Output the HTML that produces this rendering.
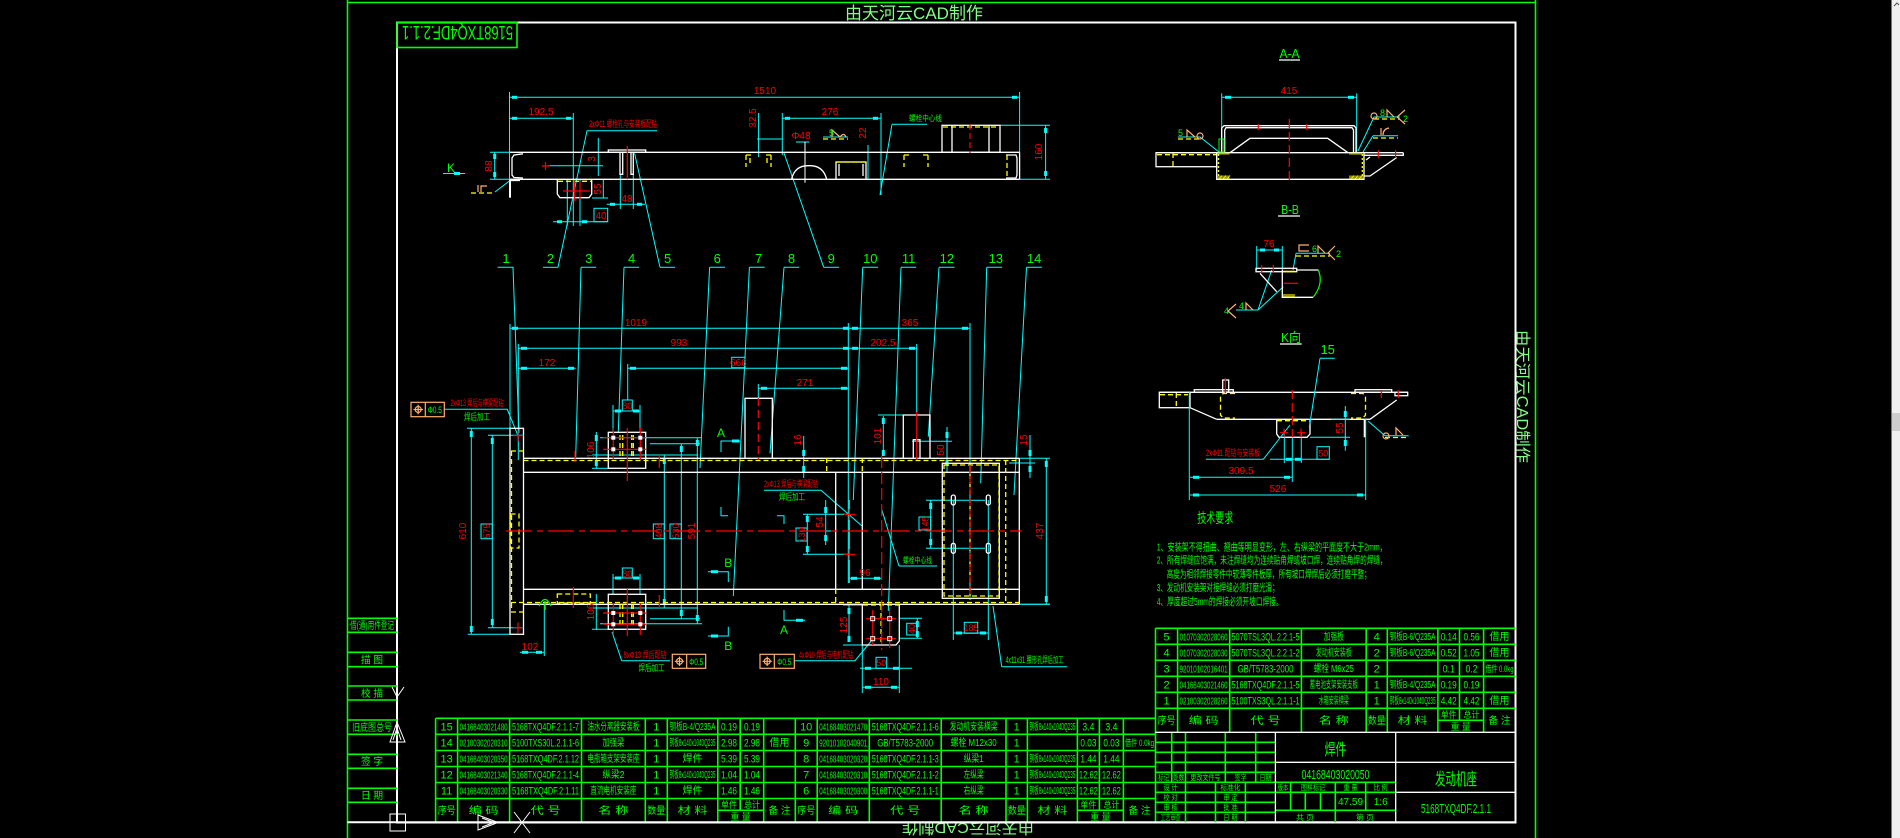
<!DOCTYPE html>
<html><head><meta charset="utf-8"><style>
html,body{margin:0;padding:0;background:#000;width:1900px;height:838px;overflow:hidden}
svg{display:block}
text{font-family:"Liberation Sans","Noto Sans CJK SC",sans-serif}
.c{stroke:#00ffff;stroke-width:1;fill:none}
.w{stroke:#fff;stroke-width:1.3;fill:none}
.wt{stroke:#fff;stroke-width:2;fill:none}
.y{stroke:#ffff00;stroke-width:1.3;fill:none;stroke-dasharray:5 3}
.r{stroke:#ff0000;stroke-width:1.2;fill:none}
.g{stroke:#00ff00;stroke-width:1.6;fill:none}
.o{stroke:#ffb070;stroke-width:1.2;fill:none}
.tg{fill:#00ff00}
.tr{fill:#ff0000}
.cf{fill:#00ffff}
.yf{fill:#ffff00}
</style></head><body>
<svg width="1900" height="838" viewBox="0 0 1900 838" xmlns="http://www.w3.org/2000/svg">
<rect width="1900" height="838" fill="#000"/>
<!-- scrollbar -->
<rect x="1891.5" y="0" width="8.5" height="838" fill="#f0f0f0"/>
<rect x="1892" y="413" width="8" height="18" fill="#cdcdcd"/>
<path d="M1894 6 L1897 3 L1899 5" stroke="#555" stroke-width="1" fill="none"/>

<!-- outer green frame -->
<g class="g">
<line x1="347.5" y1="0" x2="347.5" y2="838"/>
<line x1="1535.5" y1="0" x2="1535.5" y2="838"/>
<line x1="347.5" y1="2.5" x2="1535.5" y2="2.5"/>
</g>
<text x="914" y="19" font-size="17" fill="#80ff80" text-anchor="middle" textLength="138" lengthAdjust="spacingAndGlyphs">由天河云CAD制作</text>
<text transform="translate(1517,330) rotate(90)" font-size="16" fill="#80ff80" textLength="133" lengthAdjust="spacingAndGlyphs">由天河云CAD制作</text>
<text transform="translate(1034,823) rotate(180)" font-size="15" fill="#80ff80" textLength="132" lengthAdjust="spacingAndGlyphs">由天河云CAD制作</text>

<!-- inner white frame -->
<rect x="397" y="22.5" width="1118.5" height="800" class="wt"/>
<line x1="347.5" y1="822.3" x2="397" y2="822.3" class="wt"/>
<!-- top-left box -->
<rect x="397" y="22.5" width="120" height="25" class="g"/>
<text transform="translate(513,26) rotate(180)" font-size="19" class="tg" textLength="111" lengthAdjust="spacingAndGlyphs">5168TXQ4DF.2.1.1</text>

<!-- left sidebar -->
<g class="g">
<line x1="347.5" y1="618.3" x2="397" y2="618.3"/><line x1="347.5" y1="632.3" x2="397" y2="632.3"/>
<line x1="347.5" y1="652.3" x2="397" y2="652.3"/><line x1="347.5" y1="666.7" x2="397" y2="666.7"/>
<line x1="347.5" y1="686" x2="397" y2="686"/><line x1="347.5" y1="700" x2="397" y2="700"/>
<line x1="347.5" y1="720" x2="397" y2="720"/><line x1="347.5" y1="734.3" x2="397" y2="734.3"/>
<line x1="347.5" y1="754.3" x2="397" y2="754.3"/><line x1="347.5" y1="768.3" x2="397" y2="768.3"/>
<line x1="347.5" y1="788.3" x2="397" y2="788.3"/><line x1="347.5" y1="802.3" x2="397" y2="802.3"/>
</g>
<g class="tg" font-size="10" text-anchor="middle">
<text x="372" y="629" textLength="44" lengthAdjust="spacingAndGlyphs">借(通)用件登记</text>
<text x="372" y="663.5" textLength="22" lengthAdjust="spacingAndGlyphs">描 图</text>
<text x="372" y="697" textLength="22" lengthAdjust="spacingAndGlyphs">校 描</text>
<text x="372" y="731" textLength="40" lengthAdjust="spacingAndGlyphs">旧底图总号</text>
<text x="372" y="765" textLength="22" lengthAdjust="spacingAndGlyphs">签 字</text>
<text x="372" y="799" textLength="22" lengthAdjust="spacingAndGlyphs">日 期</text>
</g>
<!-- UCS icon -->
<g stroke="#fff" stroke-width="1" fill="none">
<path d="M392 687 L397 697 L404 687 M397 697 L397 707"/>
<path d="M397 722 L390 742 L405 742 Z M397 728 L393 740 M397 728 L401 740"/>
<rect x="390" y="814" width="15.5" height="17"/><line x1="390" y1="822.5" x2="405.5" y2="822.5"/>
<path d="M478 815 L498 822.5 L478 830 Z M482 818 L494 822.5 L482 827"/>
<path d="M514 812 L530 833 M530 812 L514 833"/>
</g>

<!-- ============ BOTTOM-LEFT PARTS TABLE ============ -->
<g class="g">
<line x1="435.6" y1="718.3" x2="1155.5" y2="718.3"/>
<line x1="435.6" y1="734.3" x2="1155.5" y2="734.3"/>
<line x1="435.6" y1="750.5" x2="1155.5" y2="750.5"/>
<line x1="435.6" y1="766.5" x2="1155.5" y2="766.5"/>
<line x1="435.6" y1="782.5" x2="1155.5" y2="782.5"/>
<line x1="435.6" y1="798.5" x2="1155.5" y2="798.5"/>
<line x1="717.8" y1="810.3" x2="763.7" y2="810.3"/>
<line x1="1077.4" y1="810.3" x2="1123.4" y2="810.3"/>
<line x1="435.6" y1="718.3" x2="435.6" y2="822.3"/>
<line x1="457.6" y1="718.3" x2="457.6" y2="822.3"/>
<line x1="509.6" y1="718.3" x2="509.6" y2="822.3"/>
<line x1="581.5" y1="718.3" x2="581.5" y2="822.3"/>
<line x1="645.3" y1="718.3" x2="645.3" y2="822.3"/>
<line x1="667.3" y1="718.3" x2="667.3" y2="822.3"/>
<line x1="717.8" y1="718.3" x2="717.8" y2="822.3"/>
<line x1="740.2" y1="718.3" x2="740.2" y2="810.3"/>
<line x1="763.7" y1="718.3" x2="763.7" y2="822.3"/>
<line x1="795.3" y1="718.3" x2="795.3" y2="822.3"/>
<line x1="817.2" y1="718.3" x2="817.2" y2="822.3"/>
<line x1="869.3" y1="718.3" x2="869.3" y2="822.3"/>
<line x1="941.2" y1="718.3" x2="941.2" y2="822.3"/>
<line x1="1006" y1="718.3" x2="1006" y2="822.3"/>
<line x1="1027.4" y1="718.3" x2="1027.4" y2="822.3"/>
<line x1="1077.4" y1="718.3" x2="1077.4" y2="822.3"/>
<line x1="1099.4" y1="718.3" x2="1099.4" y2="810.3"/>
<line x1="1123.4" y1="718.3" x2="1123.4" y2="822.3"/>
<line x1="1155.5" y1="628.3" x2="1155.5" y2="822.3"/>
</g>
<line x1="397" y1="822.3" x2="1515.5" y2="822.3" class="wt"/>
<g class="tg" font-size="11" text-anchor="middle">
<!-- left half -->
<text x="446.6" y="730.5">15</text><text x="446.6" y="746.5">14</text><text x="446.6" y="762.5">13</text><text x="446.6" y="778.5">12</text><text x="446.6" y="794.5">11</text>
<g font-size="10">
<text x="483.6" y="730.5" textLength="48" lengthAdjust="spacingAndGlyphs">04168403021480</text>
<text x="483.6" y="746.5" textLength="48" lengthAdjust="spacingAndGlyphs">02100302020310</text>
<text x="483.6" y="762.5" textLength="48" lengthAdjust="spacingAndGlyphs">04168403020350</text>
<text x="483.6" y="778.5" textLength="48" lengthAdjust="spacingAndGlyphs">04168403021340</text>
<text x="483.6" y="794.5" textLength="48" lengthAdjust="spacingAndGlyphs">04168403020330</text>
</g>
<text x="545.5" y="730.5" textLength="67" lengthAdjust="spacingAndGlyphs">5168TXQ4DF.2.1.1-7</text>
<text x="545.5" y="746.5" textLength="67" lengthAdjust="spacingAndGlyphs">5100TXS30L.2.1.1-6</text>
<text x="545.5" y="762.5" textLength="67" lengthAdjust="spacingAndGlyphs">5168TXQ4DF.2.1.12</text>
<text x="545.5" y="778.5" textLength="67" lengthAdjust="spacingAndGlyphs">5168TXQ4DF.2.1.1-4</text>
<text x="545.5" y="794.5" textLength="67" lengthAdjust="spacingAndGlyphs">5168TXQ4DF.2.1.11</text>
<g font-size="10">
<text x="613.4" y="730" textLength="52" lengthAdjust="spacingAndGlyphs">油水分离器安装板</text>
<text x="613.4" y="746" textLength="22" lengthAdjust="spacingAndGlyphs">加强梁</text>
<text x="613.4" y="762" textLength="52" lengthAdjust="spacingAndGlyphs">电瓶箱支架安装座</text>
<text x="613.4" y="778" textLength="22" lengthAdjust="spacingAndGlyphs">纵梁2</text>
<text x="613.4" y="794" textLength="46" lengthAdjust="spacingAndGlyphs">直流电机安装座</text>
</g>
<text x="656.3" y="730.5">1</text><text x="656.3" y="746.5">1</text><text x="656.3" y="762.5">1</text><text x="656.3" y="778.5">1</text><text x="656.3" y="794.5">1</text>
<g font-size="10">
<text x="692.5" y="730" textLength="46" lengthAdjust="spacingAndGlyphs">钢板B-4/Q235A</text>
<text x="692.5" y="746" textLength="46" lengthAdjust="spacingAndGlyphs">钢板8x140x1040Q235</text>
<text x="692.5" y="762">焊件</text>
<text x="692.5" y="778" textLength="46" lengthAdjust="spacingAndGlyphs">钢板8x140x1040Q235</text>
<text x="692.5" y="794">焊件</text>
</g>
<g font-size="11">
<text x="729" y="730.5" textLength="16" lengthAdjust="spacingAndGlyphs">0.19</text><text x="752" y="730.5" textLength="16" lengthAdjust="spacingAndGlyphs">0.19</text>
<text x="729" y="746.5" textLength="16" lengthAdjust="spacingAndGlyphs">2.98</text><text x="752" y="746.5" textLength="16" lengthAdjust="spacingAndGlyphs">2.98</text>
<text x="729" y="762.5" textLength="16" lengthAdjust="spacingAndGlyphs">5.39</text><text x="752" y="762.5" textLength="16" lengthAdjust="spacingAndGlyphs">5.39</text>
<text x="729" y="778.5" textLength="16" lengthAdjust="spacingAndGlyphs">1.04</text><text x="752" y="778.5" textLength="16" lengthAdjust="spacingAndGlyphs">1.04</text>
<text x="729" y="794.5" textLength="16" lengthAdjust="spacingAndGlyphs">1.46</text><text x="752" y="794.5" textLength="16" lengthAdjust="spacingAndGlyphs">1.46</text>
</g>
<text x="779.5" y="746" font-size="10">借用</text>
<!-- right half -->
<text x="806.2" y="730.5">10</text><text x="806.2" y="746.5">9</text><text x="806.2" y="762.5">8</text><text x="806.2" y="778.5">7</text><text x="806.2" y="794.5">6</text>
<g font-size="10">
<text x="843.2" y="730.5" textLength="48" lengthAdjust="spacingAndGlyphs">04168403021470</text>
<text x="843.2" y="746.5" textLength="48" lengthAdjust="spacingAndGlyphs">92010102040901</text>
<text x="843.2" y="762.5" textLength="48" lengthAdjust="spacingAndGlyphs">04168403020320</text>
<text x="843.2" y="778.5" textLength="48" lengthAdjust="spacingAndGlyphs">04168403020310</text>
<text x="843.2" y="794.5" textLength="48" lengthAdjust="spacingAndGlyphs">04168403020300</text>
</g>
<text x="905.2" y="730.5" textLength="67" lengthAdjust="spacingAndGlyphs">5168TXQ4DF.2.1.1-6</text>
<text x="905.2" y="746.5" textLength="56" lengthAdjust="spacingAndGlyphs">GB/T5783-2000</text>
<text x="905.2" y="762.5" textLength="67" lengthAdjust="spacingAndGlyphs">5168TXQ4DF.2.1.1-3</text>
<text x="905.2" y="778.5" textLength="67" lengthAdjust="spacingAndGlyphs">5168TXQ4DF.2.1.1-2</text>
<text x="905.2" y="794.5" textLength="67" lengthAdjust="spacingAndGlyphs">5168TXQ4DF.2.1.1-1</text>
<g font-size="10">
<text x="973.6" y="730" textLength="48" lengthAdjust="spacingAndGlyphs">发动机安装横梁</text>
<text x="973.6" y="746" textLength="46" lengthAdjust="spacingAndGlyphs">螺栓 M12x30</text>
<text x="973.6" y="762" textLength="20" lengthAdjust="spacingAndGlyphs">纵梁1</text>
<text x="973.6" y="778" textLength="20" lengthAdjust="spacingAndGlyphs">左纵梁</text>
<text x="973.6" y="794" textLength="20" lengthAdjust="spacingAndGlyphs">右纵梁</text>
</g>
<text x="1016.7" y="730.5">1</text><text x="1016.7" y="746.5">1</text><text x="1016.7" y="762.5">1</text><text x="1016.7" y="778.5">1</text><text x="1016.7" y="794.5">1</text>
<g font-size="10">
<text x="1052.4" y="730" textLength="46" lengthAdjust="spacingAndGlyphs">钢板8x140x1040Q235</text>
<text x="1052.4" y="762" textLength="46" lengthAdjust="spacingAndGlyphs">钢板8x140x1040Q235</text>
<text x="1052.4" y="778" textLength="46" lengthAdjust="spacingAndGlyphs">钢板8x140x1040Q235</text>
<text x="1052.4" y="794" textLength="46" lengthAdjust="spacingAndGlyphs">钢板8x140x1040Q235</text>
</g>
<g font-size="11">
<text x="1088.4" y="730.5" textLength="12" lengthAdjust="spacingAndGlyphs">3.4</text><text x="1111.4" y="730.5" textLength="12" lengthAdjust="spacingAndGlyphs">3.4</text>
<text x="1088.4" y="746.5" textLength="16" lengthAdjust="spacingAndGlyphs">0.03</text><text x="1111.4" y="746.5" textLength="16" lengthAdjust="spacingAndGlyphs">0.03</text>
<text x="1088.4" y="762.5" textLength="16" lengthAdjust="spacingAndGlyphs">1.44</text><text x="1111.4" y="762.5" textLength="16" lengthAdjust="spacingAndGlyphs">1.44</text>
<text x="1088.4" y="778.5" textLength="19" lengthAdjust="spacingAndGlyphs">12.62</text><text x="1111.4" y="778.5" textLength="19" lengthAdjust="spacingAndGlyphs">12.62</text>
<text x="1088.4" y="794.5" textLength="19" lengthAdjust="spacingAndGlyphs">12.62</text><text x="1111.4" y="794.5" textLength="19" lengthAdjust="spacingAndGlyphs">12.62</text>
</g>
<text x="1139.5" y="746" font-size="9" textLength="29" lengthAdjust="spacingAndGlyphs">借件 0.0kg</text>
<!-- headers -->
<g font-size="10">
<text x="446.6" y="814" textLength="18" lengthAdjust="spacingAndGlyphs">序号</text>
<text x="483.6" y="814" textLength="30" lengthAdjust="spacingAndGlyphs">编  码</text>
<text x="545.5" y="814" textLength="30" lengthAdjust="spacingAndGlyphs">代  号</text>
<text x="613.4" y="814" textLength="30" lengthAdjust="spacingAndGlyphs">名  称</text>
<text x="656.3" y="814" textLength="18" lengthAdjust="spacingAndGlyphs">数量</text>
<text x="692.5" y="814" textLength="30" lengthAdjust="spacingAndGlyphs">材  料</text>
<text x="729" y="808" font-size="9" textLength="16" lengthAdjust="spacingAndGlyphs">单件</text><text x="752" y="808" font-size="9" textLength="16" lengthAdjust="spacingAndGlyphs">总计</text>
<text x="740.5" y="820" font-size="9" textLength="20" lengthAdjust="spacingAndGlyphs">重 量</text>
<text x="779.5" y="814" textLength="22" lengthAdjust="spacingAndGlyphs">备 注</text>
<text x="806.2" y="814" textLength="18" lengthAdjust="spacingAndGlyphs">序号</text>
<text x="843.2" y="814" textLength="30" lengthAdjust="spacingAndGlyphs">编  码</text>
<text x="905.2" y="814" textLength="30" lengthAdjust="spacingAndGlyphs">代  号</text>
<text x="973.6" y="814" textLength="30" lengthAdjust="spacingAndGlyphs">名  称</text>
<text x="1016.7" y="814" textLength="18" lengthAdjust="spacingAndGlyphs">数量</text>
<text x="1052.4" y="814" textLength="30" lengthAdjust="spacingAndGlyphs">材  料</text>
<text x="1088.4" y="808" font-size="9" textLength="16" lengthAdjust="spacingAndGlyphs">单件</text><text x="1111.4" y="808" font-size="9" textLength="16" lengthAdjust="spacingAndGlyphs">总计</text>
<text x="1100.4" y="820" font-size="9" textLength="20" lengthAdjust="spacingAndGlyphs">重 量</text>
<text x="1139.5" y="814" textLength="22" lengthAdjust="spacingAndGlyphs">备 注</text>
</g>
</g>

<!-- ============ RIGHT PARTS TABLE ============ -->
<g class="g">
<line x1="1155.5" y1="628.3" x2="1515.5" y2="628.3"/>
<line x1="1155.5" y1="644.3" x2="1515.5" y2="644.3"/>
<line x1="1155.5" y1="660.3" x2="1515.5" y2="660.3"/>
<line x1="1155.5" y1="676.3" x2="1515.5" y2="676.3"/>
<line x1="1155.5" y1="692.3" x2="1515.5" y2="692.3"/>
<line x1="1155.5" y1="708.3" x2="1515.5" y2="708.3"/>
<line x1="1437.9" y1="720.3" x2="1483.6" y2="720.3"/>
<line x1="1177.6" y1="628.3" x2="1177.6" y2="732.3"/>
<line x1="1229.7" y1="628.3" x2="1229.7" y2="732.3"/>
<line x1="1301.4" y1="628.3" x2="1301.4" y2="732.3"/>
<line x1="1366.2" y1="628.3" x2="1366.2" y2="732.3"/>
<line x1="1387.3" y1="628.3" x2="1387.3" y2="732.3"/>
<line x1="1437.9" y1="628.3" x2="1437.9" y2="732.3"/>
<line x1="1459.5" y1="628.3" x2="1459.5" y2="720.3"/>
<line x1="1483.6" y1="628.3" x2="1483.6" y2="732.3"/>
</g>
<g class="tg" font-size="11" text-anchor="middle">
<text x="1166.5" y="640.5">5</text><text x="1166.5" y="656.5">4</text><text x="1166.5" y="672.5">3</text><text x="1166.5" y="688.5">2</text><text x="1166.5" y="704.5">1</text>
<g font-size="10">
<text x="1203.6" y="640.5" textLength="48" lengthAdjust="spacingAndGlyphs">01070302028060</text>
<text x="1203.6" y="656.5" textLength="48" lengthAdjust="spacingAndGlyphs">01070302028030</text>
<text x="1203.6" y="672.5" textLength="48" lengthAdjust="spacingAndGlyphs">92010102016401</text>
<text x="1203.6" y="688.5" textLength="48" lengthAdjust="spacingAndGlyphs">04168403021460</text>
<text x="1203.6" y="704.5" textLength="48" lengthAdjust="spacingAndGlyphs">02100302028260</text>
</g>
<text x="1265.5" y="640.5" textLength="68" lengthAdjust="spacingAndGlyphs">5070TSL3QL.2.2.1-5</text>
<text x="1265.5" y="656.5" textLength="68" lengthAdjust="spacingAndGlyphs">5070TSL3QL.2.2.1-2</text>
<text x="1265.5" y="672.5" textLength="56" lengthAdjust="spacingAndGlyphs">GB/T5783-2000</text>
<text x="1265.5" y="688.5" textLength="68" lengthAdjust="spacingAndGlyphs">5168TXQ4DF.2.1.1-5</text>
<text x="1265.5" y="704.5" textLength="68" lengthAdjust="spacingAndGlyphs">5100TXS3QL.2.1.1-1</text>
<g font-size="10">
<text x="1333.8" y="640" textLength="20" lengthAdjust="spacingAndGlyphs">加强板</text>
<text x="1333.8" y="656" textLength="36" lengthAdjust="spacingAndGlyphs">发动机安装板</text>
<text x="1333.8" y="672" textLength="40" lengthAdjust="spacingAndGlyphs">螺栓 M6x25</text>
<text x="1333.8" y="688" textLength="48" lengthAdjust="spacingAndGlyphs">蓄电池支架安装支板</text>
<text x="1333.8" y="704" textLength="30" lengthAdjust="spacingAndGlyphs">水箱安装横梁</text>
</g>
<text x="1376.7" y="640.5">4</text><text x="1376.7" y="656.5">2</text><text x="1376.7" y="672.5">2</text><text x="1376.7" y="688.5">1</text><text x="1376.7" y="704.5">1</text>
<g font-size="10">
<text x="1412.6" y="640" textLength="46" lengthAdjust="spacingAndGlyphs">钢板B-6/Q235A</text>
<text x="1412.6" y="656" textLength="46" lengthAdjust="spacingAndGlyphs">钢板B-6/Q235A</text>
<text x="1412.6" y="688" textLength="46" lengthAdjust="spacingAndGlyphs">钢板B-4/Q235A</text>
<text x="1412.6" y="704" textLength="46" lengthAdjust="spacingAndGlyphs">钢板8x140x1040Q235</text>
</g>
<text x="1448.7" y="640.5" textLength="16" lengthAdjust="spacingAndGlyphs">0.14</text><text x="1471.5" y="640.5" textLength="16" lengthAdjust="spacingAndGlyphs">0.56</text>
<text x="1448.7" y="656.5" textLength="16" lengthAdjust="spacingAndGlyphs">0.52</text><text x="1471.5" y="656.5" textLength="16" lengthAdjust="spacingAndGlyphs">1.05</text>
<text x="1448.7" y="672.5" textLength="12" lengthAdjust="spacingAndGlyphs">0.1</text><text x="1471.5" y="672.5" textLength="12" lengthAdjust="spacingAndGlyphs">0.2</text>
<text x="1448.7" y="688.5" textLength="16" lengthAdjust="spacingAndGlyphs">0.19</text><text x="1471.5" y="688.5" textLength="16" lengthAdjust="spacingAndGlyphs">0.19</text>
<text x="1448.7" y="704.5" textLength="16" lengthAdjust="spacingAndGlyphs">4.42</text><text x="1471.5" y="704.5" textLength="16" lengthAdjust="spacingAndGlyphs">4.42</text>
<g font-size="10">
<text x="1499.5" y="640">借用</text>
<text x="1499.5" y="656">借用</text>
<text x="1499.5" y="672" font-size="9" textLength="28" lengthAdjust="spacingAndGlyphs">借件 0.0kg</text>
<text x="1499.5" y="704">借用</text>
<text x="1166.5" y="724" textLength="18" lengthAdjust="spacingAndGlyphs">序号</text>
<text x="1203.6" y="724" textLength="30" lengthAdjust="spacingAndGlyphs">编  码</text>
<text x="1265.5" y="724" textLength="30" lengthAdjust="spacingAndGlyphs">代  号</text>
<text x="1333.8" y="724" textLength="30" lengthAdjust="spacingAndGlyphs">名  称</text>
<text x="1376.7" y="724" textLength="18" lengthAdjust="spacingAndGlyphs">数量</text>
<text x="1412.6" y="724" textLength="30" lengthAdjust="spacingAndGlyphs">材  料</text>
<text x="1448.7" y="718" font-size="9" textLength="16" lengthAdjust="spacingAndGlyphs">单件</text><text x="1471.5" y="718" font-size="9" textLength="16" lengthAdjust="spacingAndGlyphs">总计</text>
<text x="1460.7" y="730" font-size="9" textLength="20" lengthAdjust="spacingAndGlyphs">重 量</text>
<text x="1499.5" y="724" textLength="22" lengthAdjust="spacingAndGlyphs">备 注</text>
</g>
</g>

<!-- ============ TITLE BLOCK ============ -->
<g class="g" stroke-width="1.3">
<line x1="1155.5" y1="742.3" x2="1275.4" y2="742.3"/>
<line x1="1155.5" y1="752.3" x2="1275.4" y2="752.3"/>
<line x1="1155.5" y1="762.3" x2="1275.4" y2="762.3"/>
<line x1="1155.5" y1="772.3" x2="1275.4" y2="772.3"/>
<line x1="1155.5" y1="782.3" x2="1275.4" y2="782.3"/>
<line x1="1155.5" y1="792.3" x2="1275.4" y2="792.3"/>
<line x1="1155.5" y1="802.3" x2="1275.4" y2="802.3"/>
<line x1="1155.5" y1="812.3" x2="1275.4" y2="812.3"/>
<line x1="1171.7" y1="732.3" x2="1171.7" y2="782.3"/>
<line x1="1185.5" y1="732.3" x2="1185.5" y2="822.3"/>
<line x1="1225.3" y1="732.3" x2="1225.3" y2="782.3"/>
<line x1="1255.7" y1="732.3" x2="1255.7" y2="782.3"/>
<line x1="1215.5" y1="782.3" x2="1215.5" y2="822.3"/>
<line x1="1245.4" y1="782.3" x2="1245.4" y2="822.3"/>
<line x1="1275.4" y1="782.3" x2="1395.7" y2="782.3"/>
<line x1="1275.4" y1="792.3" x2="1395.7" y2="792.3"/>
<line x1="1275.4" y1="810.3" x2="1395.7" y2="810.3"/>
<line x1="1290.6" y1="782.3" x2="1290.6" y2="810.3"/>
<line x1="1305.3" y1="792.3" x2="1305.3" y2="810.3"/>
<line x1="1320.5" y1="792.3" x2="1320.5" y2="810.3"/>
<line x1="1335.3" y1="782.3" x2="1335.3" y2="822.3"/>
<line x1="1365.7" y1="782.3" x2="1365.7" y2="810.3"/>
</g>
<g class="w" stroke-width="1.6">
<line x1="1155.5" y1="732.3" x2="1515.5" y2="732.3"/>
<line x1="1275.4" y1="732.3" x2="1275.4" y2="822.3"/>
<line x1="1395.7" y1="732.3" x2="1395.7" y2="822.3"/>
<line x1="1275.4" y1="762.3" x2="1515.5" y2="762.3"/>
<line x1="1395.7" y1="792.3" x2="1515.5" y2="792.3"/>
</g>
<g class="tg" text-anchor="middle" font-size="7.5">
<text x="1163.6" y="780" textLength="11" lengthAdjust="spacingAndGlyphs">标记</text>
<text x="1178.6" y="780" textLength="11" lengthAdjust="spacingAndGlyphs">处数</text>
<text x="1205.4" y="780" textLength="30" lengthAdjust="spacingAndGlyphs">更改文件号</text>
<text x="1240.5" y="780" textLength="12" lengthAdjust="spacingAndGlyphs">签字</text>
<text x="1265.5" y="780" textLength="12" lengthAdjust="spacingAndGlyphs">日期</text>
<text x="1170.5" y="790" textLength="14" lengthAdjust="spacingAndGlyphs">设 计</text>
<text x="1170.5" y="800" textLength="14" lengthAdjust="spacingAndGlyphs">校 对</text>
<text x="1170.5" y="810" textLength="14" lengthAdjust="spacingAndGlyphs">审 核</text>
<text x="1170.5" y="820" textLength="20" lengthAdjust="spacingAndGlyphs">工艺审查</text>
<text x="1230.4" y="790" textLength="20" lengthAdjust="spacingAndGlyphs">标准化</text>
<text x="1230.4" y="800" textLength="14" lengthAdjust="spacingAndGlyphs">审 定</text>
<text x="1230.4" y="810" textLength="14" lengthAdjust="spacingAndGlyphs">批 准</text>
<text x="1230.4" y="820" textLength="14" lengthAdjust="spacingAndGlyphs">日 期</text>
<text x="1283" y="790" textLength="11" lengthAdjust="spacingAndGlyphs">版本</text>
<text x="1313" y="790" textLength="24" lengthAdjust="spacingAndGlyphs">图样标记</text>
<text x="1350.5" y="790" textLength="14" lengthAdjust="spacingAndGlyphs">重 量</text>
<text x="1380.7" y="790" textLength="14" lengthAdjust="spacingAndGlyphs">比 例</text>
<text x="1305" y="820" textLength="18" lengthAdjust="spacingAndGlyphs">共   页</text>
<text x="1365" y="820" textLength="18" lengthAdjust="spacingAndGlyphs">第   页</text>
<text x="1350.5" y="805" font-size="10">47.59</text>
<text x="1380.7" y="805" font-size="10">1:6</text>
<text x="1335.5" y="755" font-size="16" textLength="22" lengthAdjust="spacingAndGlyphs">焊件</text>
<text x="1335.5" y="779" font-size="13" textLength="68" lengthAdjust="spacingAndGlyphs">04168403020050</text>
<text x="1456" y="785" font-size="17" textLength="42" lengthAdjust="spacingAndGlyphs">发动机座</text>
<text x="1456" y="813" font-size="13" textLength="70" lengthAdjust="spacingAndGlyphs">5168TXQ4DF.2.1.1</text>
</g>

<!-- ============ TOP ELEVATION VIEW ============ -->
<g class="c">
<line x1="509.5" y1="92" x2="509.5" y2="180"/>
<line x1="1019.6" y1="92" x2="1019.6" y2="152"/>
<line x1="509.5" y1="97.3" x2="1019.6" y2="97.3"/>
<line x1="509.5" y1="118.3" x2="573.3" y2="118.3"/>
<line x1="573.3" y1="113" x2="573.3" y2="226"/>
<line x1="490" y1="152.3" x2="512" y2="152.3"/><line x1="490" y1="179.3" x2="512" y2="179.3"/>
<line x1="494.7" y1="152.3" x2="494.7" y2="179.3"/>
<line x1="443" y1="173.5" x2="465" y2="173.5"/>
<path d="M495 192 L510 180.5"/>
<path d="M548 165.7 L603 165.7"/>
<path d="M587 130.7 L657 130.7 M587 130.7 L558 267.3"/>
<line x1="598.3" y1="138" x2="598.3" y2="176"/>
<line x1="603.3" y1="180" x2="603.3" y2="198"/>
<line x1="592" y1="198" x2="608" y2="198"/>
<line x1="553" y1="221.7" x2="607.7" y2="221.7"/>
<line x1="567.3" y1="180" x2="567.3" y2="226"/><line x1="580" y1="180" x2="580" y2="226"/>
<rect x="594" y="208.3" width="13.7" height="13.4"/>
<line x1="606.7" y1="204.3" x2="645" y2="204.3"/>
<line x1="620.3" y1="175" x2="620.3" y2="209"/><line x1="633.3" y1="175" x2="633.3" y2="209"/>
<path d="M634.6 153.3 L660 267.3"/>
<line x1="758.6" y1="113" x2="758.6" y2="157"/>
<line x1="757" y1="139" x2="782.3" y2="139"/>
<line x1="782.3" y1="113" x2="782.3" y2="155"/>
<line x1="782.3" y1="118.3" x2="881" y2="118.3"/>
<line x1="881" y1="113" x2="881" y2="195"/>
<line x1="868" y1="145" x2="868" y2="180"/>
<line x1="796" y1="142" x2="809" y2="142"/>
<line x1="805" y1="141.7" x2="805" y2="182.7" stroke="#fff"/>
<path d="M784 153 L823.7 267.3"/>
<path d="M892 124.3 L927 124.3 M892 124.3 L880 195"/>
<line x1="823" y1="137" x2="848" y2="137"/>
<line x1="1000" y1="125.3" x2="1050" y2="125.3"/>
<line x1="1019.6" y1="179.3" x2="1050" y2="179.3"/>
<line x1="1045.6" y1="125.3" x2="1045.6" y2="179.3"/>
</g>
<g class="cf">
<rect x="512" y="95.8" width="5" height="3"/><rect x="1012" y="95.8" width="5" height="3"/>
<rect x="512" y="116.8" width="5" height="3"/><rect x="566" y="116.8" width="5" height="3"/>
<rect x="493.2" y="154" width="3" height="5"/><rect x="493.2" y="172" width="3" height="5"/>
<rect x="454" y="172" width="6" height="3"/>
<rect x="785" y="116.8" width="5" height="3"/><rect x="873" y="116.8" width="5" height="3"/>
<rect x="1044.1" y="128" width="3" height="5"/><rect x="1044.1" y="171" width="3" height="5"/>
<rect x="557" y="220.2" width="5" height="3"/><rect x="582" y="220.2" width="5" height="3"/>
<rect x="610" y="202.8" width="5" height="3"/><rect x="637" y="202.8" width="5" height="3"/>
</g>
<g class="w">
<line x1="510" y1="152.3" x2="1019.6" y2="152.3"/>
<line x1="510" y1="179.3" x2="1019.6" y2="179.3"/>
<line x1="1019.6" y1="152.3" x2="1019.6" y2="179.3"/>
<path d="M523 153.8 L514 155 L512 158 L512 175 L514 177.5 L523 178"/>
<line x1="510" y1="179.3" x2="510" y2="197.7" stroke-width="2"/>
<path d="M510 180.5 L520 180.5"/>
<path d="M557.3 180 L557.3 194 L560 197.7 L589 197.7 L591.7 194 L591.7 180"/>
<rect x="608.3" y="150" width="37.4" height="2.3"/>
<path d="M620 152.3 L620 174.3 L622.7 174.3 L622.7 152.3 M631 152.3 L631 174.3 L633.3 174.3 L633.3 152.3"/>
<path d="M791.5 179.3 Q795 165 809 165.7 Q823 165 826.7 179.3"/>
<rect x="942" y="125.3" width="58" height="27"/>
<line x1="952" y1="125.3" x2="952" y2="152.3"/><line x1="989" y1="125.3" x2="989" y2="152.3"/>
<path d="M836 179.3 L836 162 L866 162 L866 179.3 M839 164 L839 176 M863 164 L863 176"/>
<path d="M1006 155 L1016 155 L1017 158 L1017 175 L1016 178 L1006 178"/>
</g>
<g class="y">
<line x1="558" y1="181.3" x2="591" y2="181.3"/>
<line x1="943" y1="127" x2="999" y2="127"/>
<path d="M746 155 L754 155 M746 155 L746 167 M771 155 L763 155 M771 155 L771 167 M750 158 L750 166 M767 158 L767 166"/>
<path d="M836 162 L866 162"/>
<path d="M904 155 L912 155 M904 155 L904 167 M928 155 L920 155 M928 155 L928 167"/>
<line x1="471" y1="193" x2="495" y2="193"/>
<line x1="823" y1="139" x2="848" y2="139"/>
<path d="M1007 155 L1007 177"/>
</g>
<g class="r">
<line x1="627.3" y1="146" x2="627.3" y2="179.3"/>
<line x1="574.5" y1="181" x2="574.5" y2="201"/>
<line x1="563" y1="191" x2="590" y2="191"/>
<line x1="580" y1="181" x2="580" y2="199"/>
<path d="M542 166 L550 166 M545.5 162 L545.5 170"/>
<line x1="970" y1="124" x2="970" y2="153" stroke-dasharray="6 3"/>
</g>
<g class="o"><path d="M478 192 L478 185 M481 192 L481 186 L487 186"/></g>
<g class="o"><path d="M832 137 L832 130 L840 137 M840 137 Q844 132 846 137"/></g>
<g class="tr" font-size="10" text-anchor="middle">
<text x="765" y="94">1510</text>
<text x="541" y="115">192.5</text>
<text x="830" y="115">276</text>
<text x="623" y="127" font-size="9" textLength="68" lengthAdjust="spacingAndGlyphs">2xΦ11 螺栓孔与安装板配钻</text>
<text transform="translate(492,166) rotate(-90)">88</text>
<text transform="translate(756,118) rotate(-90)">32.5</text>
<text x="801" y="139">Φ48</text>
<text transform="translate(866,133) rotate(-90)">22</text>
<text transform="translate(1042,152) rotate(-90)">160</text>
<text transform="translate(595,159) rotate(-90)">3</text>
<text transform="translate(601,189) rotate(-90)">55</text>
<text x="601" y="219">40</text>
<text x="627" y="202">48</text>
</g>
<text x="447" y="172" font-size="12" class="tg">K</text>
<text x="829" y="136" font-size="9" class="tg">5</text>
<text x="909" y="121" font-size="8" class="tg" textLength="33" lengthAdjust="spacingAndGlyphs">螺栓中心线</text>

<!-- ============ BALLOONS ============ -->
<g class="tg" font-size="13" text-anchor="middle">
<text x="506" y="263">1</text><text x="550.5" y="263">2</text><text x="588.7" y="263">3</text><text x="631.6" y="263">4</text>
<text x="667.6" y="263">5</text><text x="717.3" y="263">6</text><text x="758.6" y="263">7</text><text x="791.5" y="263">8</text>
<text x="831.3" y="263">9</text><text x="870.3" y="263">10</text><text x="908.6" y="263">11</text><text x="946.9" y="263">12</text>
<text x="995.8" y="263">13</text><text x="1034.1" y="263">14</text>
</g>
<g class="c">
<path d="M497.6 267.3 H513 L519 433"/>
<path d="M543 267.3 H558"/>
<path d="M581 267.3 H596 M581 267.3 L575.7 457"/>
<path d="M624 267.3 H639 M624 267.3 L618.3 432"/>
<path d="M660 267.3 H675"/>
<path d="M709.6 267.3 H725 M709.6 267.3 L700 468"/>
<path d="M749.4 267.3 H764.7 M749.4 267.3 L733.3 596"/>
<path d="M784 267.3 H799 M784 267.3 L770 453.3"/>
<path d="M823.7 267.3 H839"/>
<path d="M862.7 267.3 H878 M862.7 267.3 L853.3 500"/>
<path d="M901 267.3 H916 M901 267.3 L888.3 611"/>
<path d="M939 267.3 H954.5 M939 267.3 L928.3 436.7"/>
<path d="M986.7 267.3 H1002 M986.7 267.3 L980.7 483.3"/>
<path d="M1026.5 267.3 H1041.8 M1026.5 267.3 L1014 495"/>
</g>

<!-- ============ PLAN VIEW ============ -->
<g class="c">
<line x1="510" y1="328.3" x2="970" y2="328.3"/>
<line x1="518.3" y1="348.3" x2="916.7" y2="348.3"/>
<line x1="518.3" y1="368.3" x2="575.7" y2="368.3"/>
<line x1="627.7" y1="368.3" x2="848.3" y2="368.3"/>
<line x1="758.3" y1="388.3" x2="848.3" y2="388.3"/>
<line x1="510" y1="324" x2="510" y2="428"/>
<line x1="518.3" y1="344" x2="518.3" y2="460"/>
<line x1="627.7" y1="364" x2="627.7" y2="400"/>
<line x1="758.3" y1="384" x2="758.3" y2="398"/>
<line x1="848.3" y1="323" x2="848.3" y2="583"/>
<line x1="916.7" y1="344" x2="916.7" y2="412"/>
<line x1="970" y1="323" x2="970" y2="600"/>
<rect x="731.7" y="357.3" width="13.3" height="10.4"/>
<line x1="467" y1="428.3" x2="510" y2="428.3"/>
<line x1="467.8" y1="634.3" x2="509.6" y2="634.3"/>
<line x1="471.3" y1="428.3" x2="471.3" y2="634.3"/>
<line x1="488" y1="435.3" x2="523" y2="435.3"/>
<line x1="488" y1="627.7" x2="523" y2="627.7"/>
<line x1="492.3" y1="435.3" x2="492.3" y2="627.7"/>
<rect x="481" y="524" width="11.3" height="14.7"/>
<line x1="592" y1="455" x2="698" y2="455"/>
<line x1="664.3" y1="455" x2="664.3" y2="608"/>
<line x1="592" y1="608" x2="698" y2="608"/>
<rect x="653.3" y="524" width="11" height="14.7"/>
<line x1="650" y1="443.7" x2="700" y2="443.7"/>
<line x1="681.3" y1="443.7" x2="681.3" y2="618.7"/>
<line x1="650" y1="618.7" x2="700" y2="618.7"/>
<rect x="670" y="524" width="11.3" height="14.7"/>
<line x1="697.3" y1="437.7" x2="697.3" y2="623.7"/>
<line x1="600" y1="437.7" x2="702" y2="437.7"/>
<line x1="600" y1="623.7" x2="702" y2="623.7"/>
<line x1="596.3" y1="432" x2="596.3" y2="468"/>
<line x1="592" y1="468.3" x2="608" y2="468.3"/>
<line x1="613" y1="411" x2="640" y2="411"/>
<line x1="613" y1="405" x2="613" y2="432"/><line x1="640" y1="405" x2="640" y2="432"/>
<rect x="622.3" y="400" width="10" height="11"/>
<line x1="613" y1="578" x2="640" y2="578"/>
<line x1="613" y1="574" x2="613" y2="594"/><line x1="640" y1="574" x2="640" y2="594"/>
<rect x="622.3" y="568" width="10" height="10"/>
<line x1="596.3" y1="594" x2="596.3" y2="630"/>
<line x1="592" y1="629.3" x2="642" y2="629.3"/>
<line x1="803.7" y1="436" x2="803.7" y2="478"/>
<line x1="883.3" y1="416" x2="883.3" y2="455"/>
<line x1="878" y1="415" x2="903" y2="415"/>
<line x1="947" y1="427" x2="947" y2="472"/>
<line x1="912" y1="441.3" x2="952" y2="441.3"/>
<line x1="1030" y1="435" x2="1030" y2="478"/>
<line x1="1019.3" y1="458.3" x2="1050" y2="458.3"/>
<line x1="1019.3" y1="604.3" x2="1050" y2="604.3"/>
<line x1="1046.3" y1="458.3" x2="1046.3" y2="604.3"/>
<line x1="1009" y1="463" x2="1035" y2="463"/>
<path d="M764 490.3 H821 L862 526"/>
<line x1="803" y1="514.3" x2="849" y2="514.3"/>
<line x1="803" y1="554.3" x2="849" y2="554.3"/>
<line x1="807.3" y1="514.3" x2="807.3" y2="554.3"/>
<rect x="796" y="528" width="11" height="13"/>
<line x1="825.7" y1="500" x2="825.7" y2="545"/>
<line x1="821" y1="531" x2="834" y2="531"/>
<line x1="849.3" y1="500" x2="849.3" y2="583"/>
<line x1="849" y1="578.3" x2="881.7" y2="578.3"/>
<path d="M899 566 H937 M899 566 L881.7 509.3"/>
<line x1="926" y1="500.3" x2="985" y2="500.3"/>
<line x1="926" y1="548.3" x2="985" y2="548.3"/>
<line x1="930.7" y1="500.3" x2="930.7" y2="548.3"/>
<rect x="919" y="517" width="11.7" height="13"/>
<line x1="953.3" y1="500" x2="953.3" y2="640"/>
<line x1="988.3" y1="500" x2="988.3" y2="640"/>
<line x1="953.3" y1="633" x2="988.3" y2="633"/>
<rect x="964.3" y="622.3" width="13.4" height="11"/>
<path d="M444.3 409.3 H507.3 L518 435.7"/>
<path d="M721 452 V441 H740"/>
<path d="M728.3 582 V571.7 H708"/>
<path d="M728.3 626.7 V636 H708"/>
<path d="M784 610 V620.3 H805"/>
<path d="M721 507 V515.7 H728"/>
<path d="M777 515.7 H784 V524"/>
<path d="M621.7 660.7 H670 M621.7 660.7 L612 632"/>
<path d="M794 660.7 H855 L872 640"/>
<line x1="849" y1="605" x2="849" y2="640"/>
<line x1="843" y1="605" x2="862" y2="605"/>
<line x1="843" y1="645" x2="862" y2="645"/>
<line x1="899" y1="618.3" x2="922" y2="618.3"/>
<line x1="899" y1="638.3" x2="922" y2="638.3"/>
<line x1="917.3" y1="618.3" x2="917.3" y2="638.3"/>
<rect x="906.7" y="623.3" width="10" height="11.7"/>
<line x1="862.3" y1="645" x2="862.3" y2="693"/>
<line x1="899.3" y1="645" x2="899.3" y2="693"/>
<line x1="860" y1="668.3" x2="912" y2="668.3"/>
<line x1="862.3" y1="687.3" x2="899.3" y2="687.3"/>
<rect x="876" y="657.3" width="10.7" height="11"/>
<path d="M1001.7 666.7 H1067.3 M1001.7 666.7 L993 606"/>
<line x1="519.8" y1="652.3" x2="544.3" y2="652.3"/>
<line x1="544.3" y1="604" x2="544.3" y2="656"/>
<line x1="1019.3" y1="604.3" x2="1050" y2="604.3"/>
</g>
<g class="cf">
<rect x="512" y="326.8" width="6" height="3"/><rect x="962" y="326.8" width="6" height="3"/><rect x="843" y="326.8" width="6" height="3"/><rect x="852" y="326.8" width="6" height="3"/>
<rect x="521" y="346.8" width="6" height="3"/><rect x="909" y="346.8" width="6" height="3"/><rect x="843" y="346.8" width="6" height="3"/><rect x="852" y="346.8" width="6" height="3"/>
<rect x="521" y="366.8" width="6" height="3"/><rect x="568" y="366.8" width="6" height="3"/><rect x="630" y="366.8" width="6" height="3"/><rect x="841" y="366.8" width="6" height="3"/>
<rect x="761" y="386.8" width="6" height="3"/><rect x="841" y="386.8" width="6" height="3"/>
<rect x="469.8" y="431" width="3" height="6"/><rect x="469.8" y="626" width="3" height="6"/>
<rect x="490.8" y="438" width="3" height="6"/><rect x="490.8" y="619" width="3" height="6"/>
<rect x="662.8" y="458" width="3" height="6"/><rect x="662.8" y="599" width="3" height="6"/>
<rect x="679.8" y="446" width="3" height="6"/><rect x="679.8" y="610" width="3" height="6"/>
<rect x="695.8" y="440" width="3" height="6"/><rect x="695.8" y="615" width="3" height="6"/>
<rect x="594.8" y="435" width="3" height="6"/><rect x="594.8" y="460" width="3" height="6"/>
<rect x="615" y="409.5" width="6" height="3"/><rect x="633" y="409.5" width="6" height="3"/>
<rect x="615" y="576.5" width="6" height="3"/><rect x="633" y="576.5" width="6" height="3"/>
<rect x="805.8" y="516" width="3" height="6"/><rect x="805.8" y="546" width="3" height="6"/>
<rect x="824.2" y="507" width="3" height="6"/><rect x="824.2" y="535" width="3" height="6"/>
<rect x="851" y="576.8" width="6" height="3"/><rect x="874" y="576.8" width="6" height="3"/>
<rect x="929.2" y="503" width="3" height="6"/><rect x="929.2" y="539" width="3" height="6"/>
<rect x="956" y="631.5" width="6" height="3"/><rect x="980" y="631.5" width="6" height="3"/>
<rect x="1044.8" y="461" width="3" height="6"/><rect x="1044.8" y="596" width="3" height="6"/>
<rect x="1028.5" y="450" width="3" height="6"/><rect x="1028.5" y="466" width="3" height="6"/>
<rect x="802.2" y="450" width="3" height="6"/><rect x="802.2" y="466" width="3" height="6"/>
<rect x="881.8" y="418" width="3" height="6"/><rect x="881.8" y="450" width="3" height="6"/>
<rect x="945.5" y="432" width="3" height="6"/><rect x="945.5" y="460" width="3" height="6"/>
<rect x="865" y="685.8" width="6" height="3"/><rect x="891" y="685.8" width="6" height="3"/>
<rect x="865" y="666.8" width="6" height="3"/><rect x="893" y="666.8" width="6" height="3"/>
<rect x="847.5" y="608" width="3" height="6"/><rect x="847.5" y="636" width="3" height="6"/>
<rect x="915.8" y="621" width="3" height="6"/><rect x="915.8" y="631" width="3" height="6"/>
<rect x="522" y="650.8" width="6" height="3"/><rect x="536" y="650.8" width="6" height="3"/>
<rect x="732" y="439.5" width="7" height="3"/><rect x="711" y="570.2" width="7" height="3"/><rect x="711" y="634.5" width="7" height="3"/><rect x="796" y="618.8" width="7" height="3"/>
</g>
<g class="w">
<rect x="510" y="428.3" width="13.5" height="206"/>
<line x1="523.5" y1="458.3" x2="1019.3" y2="458.3"/>
<line x1="523.5" y1="472.3" x2="1019.3" y2="472.3"/>
<line x1="523.5" y1="589.3" x2="1019.3" y2="589.3"/>
<line x1="523.5" y1="604.3" x2="1019.3" y2="604.3"/>
<line x1="1019.3" y1="458.3" x2="1019.3" y2="604.3"/>
<rect x="942.3" y="463.3" width="57" height="135"/>
<line x1="835.7" y1="472.3" x2="835.7" y2="589.3"/>
<line x1="862.3" y1="472.3" x2="862.3" y2="589.3"/>
<rect x="608.3" y="432.3" width="37.4" height="36"/>
<rect x="608.3" y="594.3" width="37.4" height="35"/>
<path d="M745 458.3 V398.3 H772.3 V458.3"/>
<path d="M903.3 458.3 V415 H930 V458.3"/>
<path d="M913.3 458.3 V439.7 H920 V458.3"/>
<path d="M862.3 604.3 V645 H896 L899.3 641 V604.3"/>
<rect x="951.3" y="495" width="4" height="10" rx="2"/><rect x="986.3" y="495" width="4" height="10" rx="2"/>
<rect x="951.3" y="543.3" width="4" height="10" rx="2"/><rect x="986.3" y="543.3" width="4" height="10" rx="2"/>
</g>
<g class="y">
<line x1="523.5" y1="460.5" x2="1019" y2="460.5"/>
<line x1="511" y1="602.5" x2="1019" y2="602.5"/>
<line x1="511.5" y1="451" x2="511.5" y2="610"/>
<path d="M511 451 H523 M511 612 H523"/>
<rect x="510.5" y="514" width="8.5" height="34"/>
<rect x="944" y="465" width="55" height="131"/>
<line x1="1005.7" y1="460" x2="1005.7" y2="603"/>
<line x1="826.7" y1="458" x2="826.7" y2="472"/>
<line x1="835.7" y1="589" x2="835.7" y2="604"/>
<line x1="862.3" y1="458" x2="862.3" y2="472"/>
<rect x="557.3" y="594" width="33" height="9"/>
<path d="M620 435 V458 M622.7 435 V458 M631.7 435 V458 M633.3 435 V458"/>
<path d="M620 604 V626 M622.7 604 V626 M631.7 604 V626 M633.3 604 V626"/>
<path d="M863 605 H899 M881 605 V645"/>
<line x1="970" y1="466" x2="970" y2="596"/>
</g>
<g class="r">
<line x1="506" y1="531" x2="1022" y2="531" stroke-dasharray="26 5 6 5"/>
<line x1="627.3" y1="428" x2="627.3" y2="481"/>
<line x1="627.3" y1="589" x2="627.3" y2="636"/>
<line x1="603" y1="437.7" x2="646" y2="437.7"/><line x1="603" y1="449.3" x2="646" y2="449.3"/>
<line x1="603" y1="613" x2="646" y2="613"/><line x1="603" y1="624.3" x2="646" y2="624.3"/>
<line x1="613.3" y1="428" x2="613.3" y2="460"/><line x1="640.3" y1="428" x2="640.3" y2="460"/>
<line x1="613.3" y1="603" x2="613.3" y2="635"/><line x1="640.3" y1="603" x2="640.3" y2="635"/>
<line x1="758.3" y1="398" x2="758.3" y2="460" stroke-dasharray="8 4"/>
<line x1="881.7" y1="456" x2="881.7" y2="650" stroke-dasharray="12 4"/>
<line x1="916.7" y1="412" x2="916.7" y2="460"/>
<line x1="970" y1="465" x2="970" y2="598" stroke-dasharray="8 3"/>
<line x1="659.3" y1="455" x2="659.3" y2="468"/>
<line x1="659.3" y1="595" x2="659.3" y2="608"/>
<line x1="573.3" y1="587" x2="573.3" y2="608"/>
<line x1="575" y1="451" x2="575" y2="462"/>
<line x1="872.7" y1="610" x2="872.7" y2="645"/><line x1="889.7" y1="608" x2="889.7" y2="648"/>
<line x1="866" y1="618.7" x2="896" y2="618.7"/><line x1="866" y1="638.7" x2="896" y2="638.7"/>
<path d="M844 514.3 H855 M849.3 509 V520 M844 554.3 H855 M849.3 549 V560"/>
<path d="M513 435.7 H523 M518 430.5 V441 M513 627.7 H523 M518 622.5 V633"/>
</g>
<g fill="#fff">
<rect x="611.3" y="435.7" width="4" height="4"/><rect x="638.3" y="435.7" width="4" height="4"/>
<rect x="611.3" y="447.3" width="4" height="4"/><rect x="638.3" y="447.3" width="4" height="4"/>
<rect x="611.3" y="611" width="4" height="4"/><rect x="638.3" y="611" width="4" height="4"/>
<rect x="611.3" y="622.3" width="4" height="4"/><rect x="638.3" y="622.3" width="4" height="4"/>
</g>
<g fill="none" stroke="#fff" stroke-width="1">
<rect x="870.7" y="616.7" width="4" height="4"/><rect x="887.7" y="616.7" width="4" height="4"/>
<rect x="870.7" y="636.7" width="4" height="4"/><rect x="887.7" y="636.7" width="4" height="4"/>
</g>
<path d="M539 606 Q545 593 551 606" stroke="#00ff00" stroke-width="1.2" fill="none"/>
<line x1="545" y1="601" x2="545" y2="610" stroke="#00ff00" stroke-width="1.5"/>
<g class="tr" font-size="10" text-anchor="middle">
<text x="636" y="326">1019</text>
<text x="679" y="346">993</text>
<text x="547" y="366">172</text>
<text x="738.3" y="366">666</text>
<text x="910" y="326">365</text>
<text x="883" y="346">202.5</text>
<text x="805" y="386">271</text>
<text transform="translate(466,531) rotate(-90)">610</text>
<text transform="translate(490,531) rotate(-90)" font-size="9">575</text>
<text transform="translate(662,531) rotate(-90)" font-size="9">498</text>
<text transform="translate(679,531) rotate(-90)" font-size="9">530</text>
<text transform="translate(695,531) rotate(-90)">591</text>
<text transform="translate(594,450) rotate(-90)">106</text>
<text transform="translate(594,612) rotate(-90)">106</text>
<text x="627.3" y="409" font-size="9">80</text>
<text x="627.3" y="577" font-size="9">80</text>
<text transform="translate(801,440) rotate(-90)">16</text>
<text transform="translate(881,436) rotate(-90)">101</text>
<text transform="translate(944,450) rotate(-90)">50</text>
<text transform="translate(1027,440) rotate(-90)">15</text>
<text transform="translate(1043,531) rotate(-90)">437</text>
<text transform="translate(805,535) rotate(-90)" font-size="9">130</text>
<text transform="translate(823,522) rotate(-90)">54</text>
<text x="865" y="576">96</text>
<text transform="translate(928.5,524) rotate(-90)" font-size="9">145</text>
<text x="971" y="631" font-size="9">185</text>
<text transform="translate(847,625) rotate(-90)">125</text>
<text transform="translate(915,629) rotate(-90)" font-size="9">40</text>
<text x="881.3" y="666" font-size="9">50</text>
<text x="881" y="685">110</text>
<text x="530" y="650">102</text>
<text x="477" y="406" font-size="9" textLength="53" lengthAdjust="spacingAndGlyphs">2xΦ13 焊后与横梁配钻</text>
<text x="791" y="487" font-size="9" textLength="54" lengthAdjust="spacingAndGlyphs">2xΦ13 焊后与横梁配钻</text>
<text x="645" y="658" font-size="9" textLength="43" lengthAdjust="spacingAndGlyphs">8xΦ13 焊后配钻</text>
<text x="826" y="658" font-size="9" textLength="54" lengthAdjust="spacingAndGlyphs">4xΦ10 焊后与电机配钻</text>
</g>
<g class="tg" font-size="9" text-anchor="middle">
<text x="477" y="420" textLength="26" lengthAdjust="spacingAndGlyphs">焊后加工</text>
<text x="792" y="500" textLength="26" lengthAdjust="spacingAndGlyphs">焊后加工</text>
<text x="651.5" y="671" textLength="26" lengthAdjust="spacingAndGlyphs">焊后加工</text>
<text x="917.5" y="563" font-size="8" textLength="29" lengthAdjust="spacingAndGlyphs">螺栓中心线</text>
<text x="1034.5" y="663" textLength="58" lengthAdjust="spacingAndGlyphs">4x11x31 腰形孔焊后加工</text>
<text x="721" y="437" font-size="12">A</text>
<text x="728.3" y="567" font-size="12">B</text>
<text x="728.3" y="650" font-size="12">B</text>
<text x="784" y="634" font-size="12">A</text>
</g>
<g class="o">
<rect x="411" y="402.3" width="33.3" height="14.4"/><line x1="425.3" y1="402.3" x2="425.3" y2="416.7"/>
<circle cx="418.2" cy="409.5" r="3"/><path d="M413.5 409.5 H423 M418.2 404.8 V414.2"/>
<rect x="672.3" y="654.3" width="33.4" height="14"/><line x1="686.7" y1="654.3" x2="686.7" y2="668.3"/>
<circle cx="679.5" cy="661.3" r="3"/><path d="M674.8 661.3 H684.2 M679.5 656.6 V666"/>
<rect x="760" y="654.3" width="34.3" height="14"/><line x1="774.3" y1="654.3" x2="774.3" y2="668.3"/>
<circle cx="767.2" cy="661.3" r="3"/><path d="M762.5 661.3 H771.9 M767.2 656.6 V666"/>
</g>
<g class="tg" font-size="9" text-anchor="middle">
<text x="434.8" y="413" textLength="14" lengthAdjust="spacingAndGlyphs">Φ0.5</text>
<text x="696.2" y="665" textLength="14" lengthAdjust="spacingAndGlyphs">Φ0.5</text>
<text x="784.3" y="665" textLength="14" lengthAdjust="spacingAndGlyphs">Φ0.5</text>
</g>

<!-- ============ SECTION A-A ============ -->
<g class="tg" text-anchor="middle" font-size="13">
<text x="1289.5" y="58" textLength="20" lengthAdjust="spacingAndGlyphs">A-A</text>
<text x="1290" y="214" textLength="18" lengthAdjust="spacingAndGlyphs">B-B</text>
<text x="1291" y="342" textLength="20" lengthAdjust="spacingAndGlyphs">K向</text>
<text x="1327.7" y="354">15</text>
</g>
<g stroke="#fff" stroke-width="1.3">
<line x1="1279" y1="60" x2="1300" y2="60"/>
<line x1="1278" y1="216" x2="1300" y2="216"/>
<line x1="1280" y1="344" x2="1301.7" y2="344"/>
</g>
<g class="c">
<line x1="1221.7" y1="97.3" x2="1356.7" y2="97.3"/>
<line x1="1221.7" y1="93.3" x2="1221.7" y2="153"/>
<line x1="1356.7" y1="93.3" x2="1356.7" y2="153"/>
<path d="M1178 137 H1200 L1219 152"/>
<path d="M1374 117 H1400 M1374 117 L1358 151"/>
<path d="M1373 135.7 H1398 M1373 135.7 L1363 152"/>
</g>
<g class="cf"><rect x="1225" y="95.8" width="6" height="3"/><rect x="1348" y="95.8" width="6" height="3"/></g>
<g class="w">
<path d="M1221.7 152.7 V128 L1224 125.7 H1354 L1356 128 V152.7"/>
<path d="M1224.7 152.7 V130 L1226 127.7 H1352 L1353.5 130 V152.7"/>
<path d="M1230 152.7 L1250 138.3 H1327.7 L1348 152.7"/>
<line x1="1156" y1="152.7" x2="1403.3" y2="152.7"/>
<path d="M1216.7 152.7 V179.3 H1364 V152.7"/>
<rect x="1156" y="152.7" width="60.7" height="14"/>
<path d="M1364 155.3 H1403.3 V152.7"/>
<path d="M1396.7 157.5 L1370 176 H1364 M1370 157 L1366 160"/>
</g>
<g class="y">
<line x1="1157" y1="154.7" x2="1216" y2="154.7"/>
<line x1="1173" y1="153" x2="1173" y2="166"/>
<line x1="1178" y1="139" x2="1200" y2="139"/>
<line x1="1374" y1="119" x2="1400" y2="119"/>
<line x1="1373" y1="138" x2="1398" y2="138"/>
<line x1="1218.5" y1="154" x2="1218.5" y2="178" stroke-dasharray="2 2"/>
<line x1="1362.3" y1="154" x2="1362.3" y2="178" stroke-dasharray="2 2"/>
</g>
<g fill="#ffff00" fill-opacity="0.55">
<rect x="1217.5" y="175.5" width="12" height="3.5"/><rect x="1349" y="175.5" width="14" height="3.5"/>
<rect x="1217.5" y="152.7" width="12" height="2"/><rect x="1349" y="152.7" width="13" height="2"/>
</g>
<g stroke="#ffff00" stroke-width="0.8">
<path d="M1219 179 L1222 175.5 M1223 179 L1226 175.5 M1227 179 L1230 175.5 M1351 179 L1354 175.5 M1355 179 L1358 175.5 M1359 179 L1362 175.5"/>
</g>
<g class="r">
<line x1="1289.3" y1="119" x2="1289.3" y2="180" stroke-dasharray="9 4"/>
<line x1="1258.3" y1="124" x2="1258.3" y2="130"/><line x1="1306.7" y1="124" x2="1306.7" y2="130"/>
<line x1="1378.3" y1="150" x2="1378.3" y2="158"/><line x1="1395.6" y1="150" x2="1395.6" y2="158"/>
</g>
<rect x="1219" y="139" width="5" height="13" fill="none" stroke="#00ff00" stroke-width="1"/>
<g class="o">
<path d="M1187 137 V130 L1195 137"/><circle cx="1200" cy="136" r="3"/>
<circle cx="1374" cy="116" r="3"/><path d="M1387 117 V110 L1394 117 M1405 110 L1397 117 L1405 124"/>
<path d="M1381 135 V128 M1383 135 Q1383 129 1389 128"/>
</g>
<g class="tg" font-size="9">
<text x="1178" y="136">5</text><text x="1380" y="116">8</text><text x="1403" y="122">2</text>
</g>
<text x="1289" y="94" font-size="10" class="tr" text-anchor="middle">415</text>

<!-- ============ SECTION B-B ============ -->
<g class="c">
<line x1="1256.7" y1="250" x2="1282.3" y2="250"/>
<line x1="1256.7" y1="246" x2="1256.7" y2="270"/>
<line x1="1282.3" y1="246" x2="1282.3" y2="270"/>
<path d="M1236 310 H1258 L1283.3 286.7 M1258 310 L1271.7 270"/>
<path d="M1296 253.3 H1330 M1296 253.3 L1293 270"/>
</g>
<g class="cf"><rect x="1260" y="248.5" width="5" height="3"/><rect x="1274" y="248.5" width="5" height="3"/></g>
<g class="w">
<rect x="1256" y="268.3" width="40.7" height="3.4"/>
<path d="M1282.3 270 V297.3 H1313"/>
<line x1="1296.7" y1="270" x2="1318.3" y2="270"/>
<path d="M1260 273.3 L1276.7 291.7"/>
</g>
<path d="M1318.3 270 Q1324 284 1313 297.3" stroke="#00ff00" stroke-width="1.2" fill="none"/>
<g fill="#ffff00" fill-opacity="0.55"><rect x="1283" y="294" width="12" height="3"/><rect x="1283" y="270.5" width="12" height="2"/></g>
<line x1="1296" y1="256" x2="1330" y2="256" class="y"/>
<g class="r">
<line x1="1284" y1="283.3" x2="1298" y2="283.3"/>
<line x1="1261.7" y1="265" x2="1261.7" y2="273"/><line x1="1273.3" y1="265" x2="1273.3" y2="273"/>
</g>
<g class="o">
<path d="M1236 304 L1228 311 L1236 318"/><path d="M1246 310 V303 L1253 310"/>
<path d="M1309 245 H1299 V251 H1309"/><path d="M1318 253 V246 L1325 253"/><path d="M1335 246 L1328 253 L1335 260"/>
</g>
<g class="tg" font-size="9">
<text x="1224" y="314">4</text><text x="1239" y="309">4</text><text x="1312" y="252">6</text><text x="1336" y="257">2</text>
</g>
<text x="1269" y="247" font-size="10" class="tr" text-anchor="middle">76</text>

<!-- ============ K VIEW ============ -->
<g class="w">
<line x1="1159.3" y1="392.3" x2="1407.7" y2="392.3"/>
<rect x="1159.3" y="392.3" width="30.7" height="15.4"/>
<rect x="1395" y="392.3" width="12.7" height="3.4"/>
<line x1="1216.7" y1="419.3" x2="1370" y2="419.3"/>
<path d="M1190 407.7 L1216.7 419.3"/>
<path d="M1370 419.3 L1396.7 400"/>
<rect x="1194.3" y="389.7" width="39" height="2.6"/>
<rect x="1355" y="389.7" width="36.7" height="2.6"/>
<rect x="1222.7" y="380" width="6" height="12"/>
<path d="M1276.7 419.3 V434 L1279 437.3 H1307 L1310 434 V419.3"/>
<line x1="1364.7" y1="419.3" x2="1364.7" y2="437.3" stroke-width="2"/>
</g>
<g class="y">
<line x1="1160" y1="394.7" x2="1188" y2="394.7"/>
<line x1="1176.3" y1="393" x2="1176.3" y2="407"/>
<path d="M1235 393.5 H1223 L1220.5 397 V415 L1223 418 H1235"/>
<path d="M1351 393.5 H1363 L1365.5 397 V415 L1363 418 H1351"/>
<line x1="1277" y1="420.7" x2="1309" y2="420.7"/>
<line x1="1385" y1="437.5" x2="1408.7" y2="437.5"/>
</g>
<g class="c">
<path d="M1320 358.3 H1334.7 M1320 358.3 L1309.3 427.3"/>
<line x1="1189.3" y1="392" x2="1189.3" y2="500"/>
<line x1="1365.7" y1="419" x2="1365.7" y2="500"/>
<line x1="1190" y1="477.3" x2="1292.3" y2="477.3"/>
<line x1="1292.3" y1="437" x2="1292.3" y2="482"/>
<line x1="1190" y1="495" x2="1365.7" y2="495"/>
<line x1="1345.3" y1="406" x2="1345.3" y2="450.7"/>
<line x1="1331" y1="419.3" x2="1350" y2="419.3"/>
<line x1="1310" y1="437.3" x2="1350" y2="437.3"/>
<rect x="1317" y="446.7" width="12.3" height="12.6"/>
<line x1="1270" y1="459.3" x2="1329.3" y2="459.3"/>
<line x1="1284.3" y1="432" x2="1284.3" y2="463"/>
<line x1="1301.3" y1="432" x2="1301.3" y2="463"/>
<path d="M1206 459.3 H1263.3 L1290 425"/>
<path d="M1385 435.7 H1408.7 M1385 435.7 L1368.3 421.3"/>
</g>
<g class="cf">
<rect x="1193" y="475.8" width="6" height="3"/><rect x="1284" y="475.8" width="6" height="3"/>
<rect x="1193" y="493.5" width="6" height="3"/><rect x="1357" y="493.5" width="6" height="3"/>
<rect x="1343.8" y="411" width="3" height="6"/><rect x="1343.8" y="440" width="3" height="6"/>
<rect x="1286" y="457.8" width="6" height="3"/><rect x="1295" y="457.8" width="6" height="3"/>
</g>
<g class="r">
<line x1="1225.3" y1="378" x2="1225.3" y2="393"/>
<line x1="1381.3" y1="390" x2="1381.3" y2="398"/><line x1="1398.3" y1="390" x2="1398.3" y2="398"/>
<line x1="1292.3" y1="390" x2="1292.3" y2="437" stroke-dasharray="9 4"/>
<path d="M1280 432.7 H1288 M1284 428.5 V437 M1297 432.7 H1305 M1301 428.5 V437"/>
</g>
<g class="o"><circle cx="1386" cy="436" r="3"/><path d="M1396 435 V428 L1403 435"/></g>
<g class="tr" font-size="10" text-anchor="middle">
<text x="1241" y="474">309.5</text>
<text x="1278" y="492">526</text>
<text transform="translate(1343,428) rotate(-90)">55</text>
<text x="1323.2" y="456.5" font-size="9">50</text>
<text x="1233" y="456" font-size="9" textLength="54" lengthAdjust="spacingAndGlyphs">2xΦ11 配钻与安装板</text>
</g>

<!-- ============ TECH REQUIREMENTS ============ -->
<g class="tg">
<text x="1197.3" y="523" font-size="14" textLength="36" lengthAdjust="spacingAndGlyphs">技术要求</text>
<g font-size="10.5">
<text x="1156.7" y="550.5" textLength="230" lengthAdjust="spacingAndGlyphs">1、安装架不得扭曲、翘曲等明显变形，左、右纵梁的平面度不大于2mm，</text>
<text x="1156.7" y="563.5" textLength="230" lengthAdjust="spacingAndGlyphs">2、所有焊缝应饱满，未注焊缝均为连续贴角焊或坡口焊，连续贴角焊的焊缝，</text>
<text x="1166.7" y="577.5" textLength="204" lengthAdjust="spacingAndGlyphs">高度为相邻焊接零件中较薄零件板厚，所有坡口焊焊后必须打磨平整；</text>
<text x="1156.7" y="591" textLength="122" lengthAdjust="spacingAndGlyphs">3、发动机安装架对接焊缝必须打磨光滑；</text>
<text x="1156.7" y="605" textLength="126" lengthAdjust="spacingAndGlyphs">4、厚度超过5mm的焊接必须开坡口焊接。</text>
</g>
</g>
</svg>
</body></html>
